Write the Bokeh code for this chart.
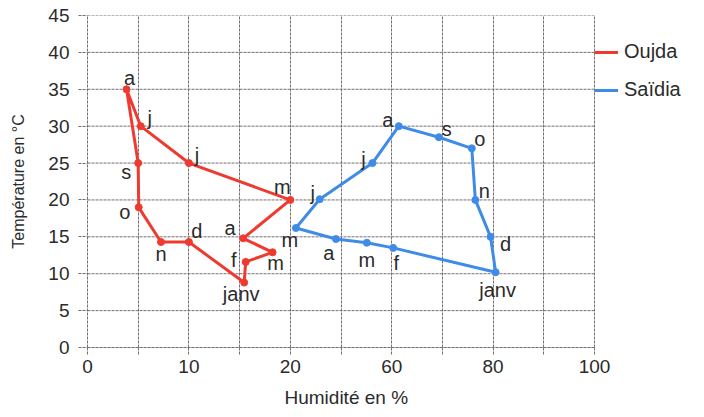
from bokeh.plotting import figure
from bokeh.models import ColumnDataSource, Legend, LegendItem, FixedTicker, Range1d, Title
from bokeh.embed import file_html
from bokeh.resources import INLINE
from bokeh.core.properties import value

# ---- data ----
months = ["janv", "f", "m", "a", "m", "j", "j", "a", "s", "o", "n", "d"]
oujda_hum = [30.9, 31.2, 36.5, 30.7, 40.0, 20.0, 10.5, 7.7, 10.0, 10.1, 14.5, 20.0]
oujda_temp = [8.8, 11.6, 12.9, 14.8, 20.0, 25.0, 30.0, 35.0, 25.0, 19.0, 14.3, 14.3]
saidia_hum = [80.5, 60.3, 55.1, 49.0, 41.1, 45.8, 56.2, 61.4, 69.3, 75.8, 76.5, 79.5]
saidia_temp = [10.2, 13.5, 14.2, 14.7, 16.2, 20.1, 25.0, 30.0, 28.5, 27.0, 20.0, 15.0]

x_ticks = [0, 20, 40, 60, 80, 100]
x_tick_labels = ["0", "10", "20", "60", "80", "100"]
x_grid = [0, 10, 20, 30, 40, 50, 60, 70, 80, 90, 100]
y_ticks = [0, 5, 10, 15, 20, 25, 30, 35, 40, 45]

# label offsets in screen pixels (dx, dy downward)
oujda_dx = [-3, -12, 3, -13, -8, 8, 9, 3, -12, -14, 0, 8]
oujda_dy = [11, -2, 11, -10, -13, -8, -8, -11, 9, 5, 12, -11]
saidia_dx = [2, 3, 0, -7, -6, -7, -9, -11, 8, 8, 9, 15]
saidia_dy = [18, 15, 17, 14, 12, -6, -4, -6, -8, -9, -9, 7]

RED = "#ef3a30"
BLUE = "#3f8ce8"
GRID = "#766c74"
TXT = "#2b2b2b"
FONT = "Liberation Sans"

W, H = 704, 417
LEFT, RIGHT, TOP, BOTTOM = 87, 4, 15, 70
PLOT_W = 507  # pixel width of the 0..100 humidity area
frame_w = W - LEFT - RIGHT

p = figure(width=W, height=H, output_backend="svg", toolbar_location=None,
           x_range=Range1d(0, 100 * frame_w / PLOT_W), y_range=Range1d(0, 45),
           min_border_left=LEFT, min_border_right=RIGHT,
           min_border_top=TOP, min_border_bottom=BOTTOM)

p.background_fill_color = "white"
p.border_fill_color = "white"
p.outline_line_color = None

p.xaxis.ticker = FixedTicker(ticks=x_grid)
overrides = {t: "" for t in x_grid}
for t, l in zip(x_ticks, x_tick_labels):
    overrides[t] = l
p.xaxis.major_label_overrides = overrides
p.xaxis.bounds = (0, 100)
p.yaxis.ticker = FixedTicker(ticks=y_ticks)

for ax in (p.xaxis[0], p.yaxis[0]):
    ax.axis_line_color = GRID
    ax.axis_line_dash = "3 1"
    ax.major_tick_line_color = GRID
    ax.major_tick_line_dash = "3 1"
    ax.major_tick_in = 0
    ax.minor_tick_line_color = None
    ax.major_label_text_font = FONT
    ax.major_label_text_font_size = "19px"
    ax.major_label_text_color = TXT
    ax.axis_label_text_font = FONT
    ax.axis_label_text_font_style = "normal"
    ax.axis_label_text_color = TXT

p.xaxis.major_tick_out = 7
p.yaxis.major_tick_out = 9
p.xaxis.major_label_standoff = 5
p.yaxis.axis_label = "Température en °C"
p.yaxis.axis_label_text_font_size = "16px"
p.yaxis.major_label_standoff = 9
p.yaxis.axis_label_standoff = 18

# x-axis title centred under the 0..100 area
xtitle = Title(text="Humidité en %", align="left", offset=197, standoff=18,
               text_font=FONT, text_font_size="19px", text_font_style="normal",
               text_color=TXT)
p.add_layout(xtitle, "below")

# vertical grid lines from the library's grid, horizontal ones limited to 0..100
p.xgrid.ticker = FixedTicker(ticks=x_grid)
p.xgrid.grid_line_color = GRID
p.xgrid.grid_line_dash = "3 1"
p.ygrid.visible = False
p.segment(x0=[x_grid[0]] * len(y_ticks), x1=[x_grid[-1]] * len(y_ticks),
          y0=y_ticks, y1=y_ticks, line_color=GRID, line_dash="3 1", line_width=1)

def closed(a):
    return list(a) + [a[0]]

src_o = ColumnDataSource(dict(x=oujda_hum, y=oujda_temp, t=months, dx=oujda_dx, dy=oujda_dy))
src_s = ColumnDataSource(dict(x=saidia_hum, y=saidia_temp, t=months, dx=saidia_dx, dy=saidia_dy))

r_o = p.line(closed(oujda_hum), closed(oujda_temp), line_color=RED, line_width=3, line_join="round")
p.scatter("x", "y", source=src_o, size=7, color=RED)
r_s = p.line(closed(saidia_hum), closed(saidia_temp), line_color=BLUE, line_width=3, line_join="round")
p.scatter("x", "y", source=src_s, size=7, color=BLUE)

for src in (src_o, src_s):
    p.text("x", "y", text="t", source=src, x_offset="dx", y_offset="dy",
           text_align="center", text_baseline="middle",
           text_font=value(FONT), text_font_size="20px", text_color=TXT)

legend = Legend(items=[LegendItem(label="Oujda", renderers=[r_o]),
                       LegendItem(label="Saïdia", renderers=[r_s])],
                location=(PLOT_W, 246))
legend.margin = 0
legend.padding = 4
legend.spacing = 15
legend.glyph_width = 24
legend.glyph_height = 22
legend.label_height = 22
legend.label_standoff = 6
legend.label_text_font = FONT
legend.label_text_font_size = "20px"
legend.label_text_color = TXT
legend.border_line_color = None
legend.background_fill_alpha = 0
p.add_layout(legend, "center")

open("out.html", "w").write(file_html(p, INLINE))
